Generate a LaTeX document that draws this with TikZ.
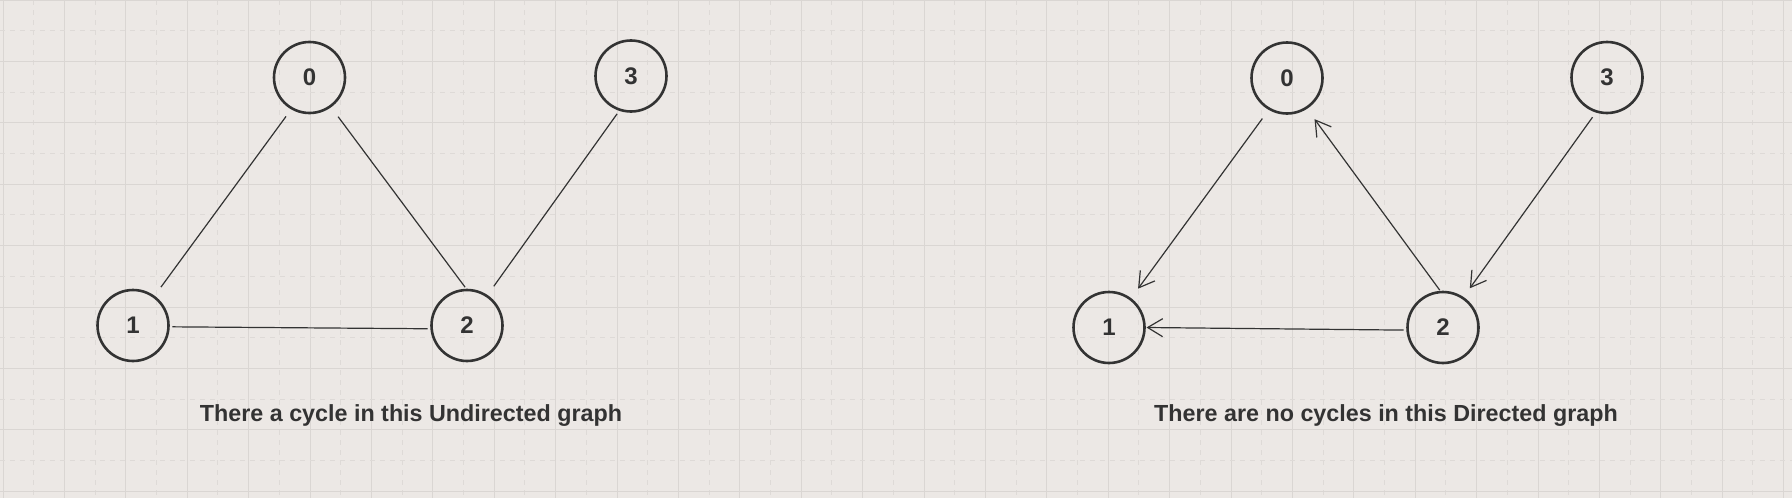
\documentclass[tikz,border=0pt]{standalone}
\usepackage{fontspec}
\setmainfont{Liberation Sans}
\usetikzlibrary{arrows.meta}
\definecolor{paper}{HTML}{ECE8E5}
\definecolor{gridmajor}{HTML}{DAD6D3}
\definecolor{gridminor}{HTML}{DEDAD7}
\definecolor{ink}{HTML}{333333}
\tikzset{
  vertex/.style={draw=ink, circle, line width=1.3pt, minimum size=35.5pt, inner sep=0, outer sep=1pt,
    font=\fontsize{12}{12}\selectfont\bfseries, text=ink},
  edge/.style={draw=ink, line width=0.6pt},
  diedge/.style={edge, -{Straight Barb[length=7.5pt,width=9pt]}},
  caption/.style={font=\fontsize{11.65}{12}\selectfont\bfseries, text=ink, anchor=base}
}
\newcommand{\drawvertex}{\node[vertex]}

\begin{document}
\begin{tikzpicture}[x=0.5pt,y=-0.5pt]

	\fill[paper] (0,0) rectangle (1792,498);
	\useasboundingbox (0,0) rectangle (1792,498);
	\foreach \k in {0,...,29} {
		\draw[gridmajor, line width=0.5pt] ({3+61.4*\k},0) -- ({3+61.4*\k},498);
		\draw[gridminor, line width=0.5pt, dash pattern=on 2.5pt off 2.5pt] ({33.7+61.4*\k},0) -- ({33.7+61.4*\k},498);
	}
	\foreach \k in {0,...,8} {
		\draw[gridmajor, line width=0.5pt] (0,{61.4*\k}) -- (1792,{61.4*\k});
		\draw[gridminor, line width=0.5pt, dash pattern=on 2.5pt off 2.5pt] (0,{30.7+61.4*\k}) -- (1792,{30.7+61.4*\k});
	}

	% undirected
	\drawvertex (l0) at (309.5,77.5) {0};
	\drawvertex (l3) at (631,76) {3};
	\drawvertex (l1) at (133,325.5) {1};
	\drawvertex (l2) at (467,325.5) {2};

	\draw[edge, shorten <=4pt, shorten >=5pt] (l0.-120) -- (l1.54);
	\draw[edge, shorten <=5.5pt, shorten >=0.5pt] (l0.-54) -- (l2.92);
	\draw[edge, shorten <=1.5pt, shorten >=5pt] (l3.-109) -- (l2.56);
	\draw[edge, shorten <=1pt, shorten >=1pt] (l1.-2) -- (l2.185);

	\node[caption] (lcap) at (411,421.5) {There a cycle in this Undirected graph};

	% directed
	\drawvertex (r0) at (1287,78) {0};
	\drawvertex (r3) at (1607,77.5) {3};
	\drawvertex (r1) at (1109,327.5) {1};
	\drawvertex (r2) at (1443,327.5) {2};

	\draw[diedge, shorten <=5pt, shorten >=5.5pt] (r0.-120) -- (r1.53);
	\draw[diedge, shorten >=6pt] (r2.95) -- (r0.-57);
	\draw[diedge, shorten <=2.5pt, shorten >=5pt] (r3.-108) -- (r2.56);
	\draw[diedge, shorten <=1pt] (r2.184) -- (r1.0);

	\node[caption] (rcap) at (1386,421.5) {There are no cycles in this Directed graph};

\end{tikzpicture}
\end{document}
